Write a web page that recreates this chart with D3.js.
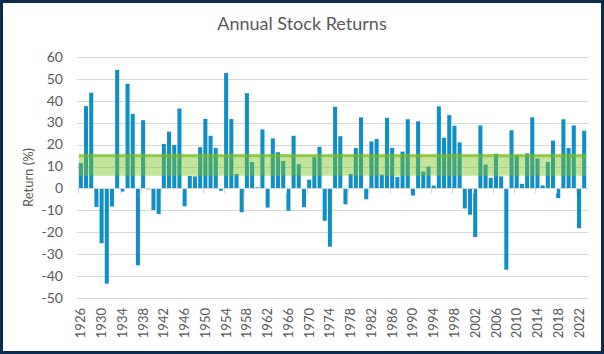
<!DOCTYPE html>
<html>
<head>
<meta charset="utf-8">
<script src="https://cdn.jsdelivr.net/npm/d3@7"></script>
<style>
html, body { margin: 0; padding: 0; background: #fff; }
svg { display: block; font-family: Lato, "Open Sans", sans-serif; }
</style>
</head>
<body>
<svg id="chart" width="604" height="354"></svg>
<script>
// annual returns (%), 1926 .. 2023
var years = d3.range(1926, 2024);
var returns = [
  11.6, 37.5, 43.6, -8.4, -24.9, -43.3, -8.2, 54.0, -1.4, 47.7,
  33.9, -35.0, 31.1, -0.4, -9.8, -11.6, 20.3, 25.9, 19.8, 36.4,
  -8.1, 5.7, 5.5, 18.8, 31.7, 24.0, 18.4, -1.0, 52.6, 31.6,
  6.6, -10.8, 43.4, 12.0, 0.5, 26.9, -8.7, 22.8, 16.5, 12.5,
  -10.1, 24.0, 11.1, -8.5, 4.0, 14.3, 19.0, -14.7, -26.5, 37.2,
  23.8, -7.2, 6.6, 18.4, 32.4, -4.9, 21.4, 22.5, 6.3, 32.2,
  18.5, 5.2, 16.8, 31.5, -3.2, 30.6, 7.7, 10.0, 1.3, 37.4,
  23.1, 33.4, 28.6, 21.0, -9.1, -11.9, -22.1, 28.7, 10.9, 4.9,
  15.8, 5.5, -37.0, 26.5, 15.1, 2.1, 16.0, 32.4, 13.7, 1.4,
  12.0, 21.8, -4.4, 31.5, 18.4, 28.7, -18.1, 26.3
];
var tickYears = [1926, 1930, 1934, 1938, 1942, 1946, 1950, 1954, 1958, 1962,
  1966, 1970, 1974, 1978, 1982, 1986, 1990, 1994, 1998, 2002, 2006, 2010,
  2014, 2018, 2022];
var yTicks = [-50, -40, -30, -20, -10, 0, 10, 20, 30, 40, 50, 60];
// shaded range
var bandLow = 5.8;
var bandHigh = 15.6;
var bandEdge = 14.9;

var svg = d3.select("#chart");
var plotLeft = 77, plotRight = 588, plotTop = 56.7, plotBottom = 298.3;

svg.append("rect")
    .attr("x", 1.5).attr("y", 1.5)
    .attr("width", 601).attr("height", 351)
    .attr("fill", "#fff")
    .attr("stroke", "#0c2b50")
    .attr("stroke-width", 3);

var x = d3.scaleBand()
    .domain(years)
    .range([plotLeft, plotRight])
    .paddingInner(0.22)
    .paddingOuter(0.35);

var y = d3.scaleLinear()
    .domain([-50, 60])
    .range([plotBottom, plotTop]);

svg.append("text")
    .attr("x", 302).attr("y", 30)
    .attr("text-anchor", "middle")
    .attr("fill", "#595959")
    .attr("font-size", 18)
    .text("Annual Stock Returns");

// grid
svg.append("g")
    .selectAll("line")
    .data(yTicks)
    .enter().append("line")
        .attr("x1", plotLeft).attr("x2", plotRight)
        .attr("y1", d => Math.round(y(d)) + 0.5)
        .attr("y2", d => Math.round(y(d)) + 0.5)
        .attr("stroke", "#d9d9d9")
        .attr("stroke-width", 1);

// y labels
svg.append("g")
    .selectAll("text")
    .data(yTicks)
    .enter().append("text")
        .attr("x", 63)
        .attr("y", d => y(d))
        .attr("dy", "0.35em")
        .attr("text-anchor", "end")
        .attr("fill", "#595959")
        .attr("font-size", 14)
        .text(d => d);

svg.append("text")
    .attr("transform", "translate(28," + y(5) + ") rotate(-90)")
    .attr("text-anchor", "middle")
    .attr("dy", "0.35em")
    .attr("fill", "#595959")
    .attr("font-size", 13)
    .text("Return (%)");

// bars
svg.append("g")
    .selectAll("rect")
    .data(returns)
    .enter().append("rect")
        .attr("x", (d, i) => x(years[i]))
        .attr("width", x.bandwidth())
        .attr("y", d => y(Math.max(0, d)))
        .attr("height", d => Math.abs(y(d) - y(0)))
        .attr("fill", "#0f8fc6");

// zero axis + ticks
var step = x.step();
var gap = step - x.bandwidth();
svg.append("line")
    .attr("x1", plotLeft).attr("x2", plotRight)
    .attr("y1", Math.round(y(0)) + 0.5).attr("y2", Math.round(y(0)) + 0.5)
    .attr("stroke", "#d9d9d9");
svg.append("g")
    .selectAll("line")
    .data(tickYears)
    .enter().append("line")
        .attr("x1", d => Math.round(x(d) - gap / 2) + 0.5)
        .attr("x2", d => Math.round(x(d) - gap / 2) + 0.5)
        .attr("y1", y(0)).attr("y2", y(0) + 5)
        .attr("stroke", "#d9d9d9");

// green band
var bx0 = x(years[0]);
var bx1 = x(years[years.length - 1]) + x.bandwidth();
svg.append("rect")
    .attr("x", bx0)
    .attr("width", bx1 - bx0)
    .attr("y", y(bandHigh))
    .attr("height", y(bandLow) - y(bandHigh))
    .attr("fill", "rgb(125,195,35)")
    .attr("fill-opacity", 0.45);
svg.append("line")
    .attr("x1", bx0).attr("x2", bx1)
    .attr("y1", y(bandEdge)).attr("y2", y(bandEdge))
    .attr("stroke", "rgb(120,185,30)")
    .attr("stroke-opacity", 0.65)
    .attr("stroke-width", 3);

// x labels
svg.append("g")
    .selectAll("text")
    .data(tickYears)
    .enter().append("text")
        .attr("transform", d => "translate(" + (x(d) + x.bandwidth() / 2) + ",308) rotate(-90)")
        .attr("text-anchor", "end")
        .attr("dy", "0.35em")
        .attr("fill", "#595959")
        .attr("font-size", 13)
        .text(d => d);
</script>
</body>
</html>
